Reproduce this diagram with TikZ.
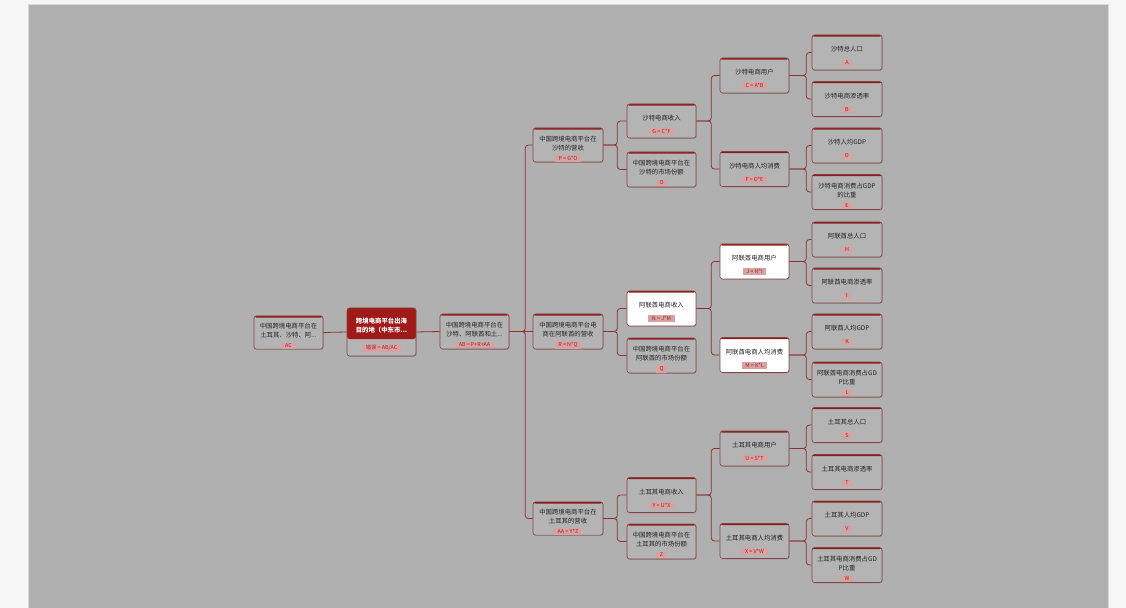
\documentclass[tikz,border=0pt]{standalone}
\usepackage{fontspec}
\newfontfamily\cjk{Noto Sans CJK SC}
\usetikzlibrary{calc,shadows}
\definecolor{panel}{HTML}{B0B0B0}
\definecolor{outer}{HTML}{F6F6F6}
\definecolor{bxfill}{HTML}{B4B4B4}
\definecolor{bxline}{HTML}{8A4040}
\definecolor{topred}{HTML}{8A1C1C}
\definecolor{fpink}{HTML}{D6A2A2}
\definecolor{ftext}{HTML}{A12525}
\definecolor{conncol}{HTML}{8E3030}
\definecolor{rootred}{HTML}{A01A1A}
\definecolor{txt}{HTML}{222222}
\newcommand\fm[1]{{\setlength\fboxsep{1.2pt}\colorbox{fpink}{\hspace{2.5pt}\color{ftext}\fontsize{5.4}{6}\selectfont #1\hspace{2.5pt}}}}
\newcommand\bx[5][]{\node[box,#1] (#2) at (#3,#4) {\rule{0pt}{13bp}#5};}
\tikzset{
  box/.style={draw=bxline, line width=0.6bp, fill=bxfill, rounded corners=2.5bp,
    inner sep=0pt, align=center, text=txt, minimum width=69bp, minimum height=35bp,
    font=\cjk\fontsize{6.4}{9}\selectfont,
    drop shadow={shadow xshift=0.7bp, shadow yshift=-0.8bp, opacity=0.35, fill=black!60},
    path picture={\fill[topred] (path picture bounding box.north west) rectangle ([yshift=-1.7bp]path picture bounding box.north east);}},
  hl/.style={fill=white},
  conn/.style={draw=conncol, line width=0.8bp, rounded corners=3bp},
  roottxt/.style={text=white, align=center, font=\cjk\bfseries\fontsize{6.4}{9}\selectfont, inner sep=0pt}
}
\begin{document}
\begin{tikzpicture}[x=1bp,y=-1bp]
\useasboundingbox (0,0) rectangle (1126,608);
\fill[outer] (0,0) rectangle (1126,608);
\fill[panel] (29,5) rectangle (1108,608);
\draw[draw=black!15, line width=0.5bp] (28.5,4.5) -- (28.5,608) (1108.5,4.5) -- (1108.5,608) (28.5,4.5) -- (1108.5,4.5);

% left and root
\bx[minimum height=33bp]{AC}{288.5}{332.5}{中国跨境电商平台在\\土耳其、沙特、阿...\\[1pt]\fm{AC}}
\node[box, minimum height=48bp, path picture={\fill[rootred] (path picture bounding box.north west) rectangle ([yshift=-31bp]path picture bounding box.north east);}] (root) at (381.5,332) {};
\node[roottxt] (roott) at ($(root.north)+(0,17.5)$) {跨境电商平台出海\\目的地（中东市...};
\node[inner sep=0pt, font=\cjk] (rootf) at ($(root.south)+(0,-8.5)$) {\fm{错误 = AB/AC}};
\bx{AB}{474.5}{331.5}{中国跨境电商平台在\\沙特、阿联酋和土...\\[1pt]\fm{AB = P+R+AA}}

% column 3
\bx[minimum width=70bp, minimum height=34bp]{P}{568}{145}{中国跨境电商平台在\\沙特的营收\\[1pt]\fm{P = G*O}}
\bx[minimum width=70bp]{R}{568}{331.5}{中国跨境电商平台电\\商在阿联酋的营收\\[1pt]\fm{R = N*Q}}
\bx[minimum width=70bp, minimum height=33bp]{AA}{568}{518.5}{中国跨境电商平台在\\土耳其的营收\\[1pt]\fm{AA = Y*Z}}

% column 4
\bx[minimum height=34bp]{G}{661.5}{121}{沙特电商收入\\[4pt]\fm{G = C*F}}
\bx{O}{661.5}{169.5}{中国跨境电商平台在\\沙特的市场份额\\[1pt]\fm{O}}
\bx[hl]{N}{661.5}{308.5}{阿联酋电商收入\\[4pt]\fm{N = J*M}}
\bx{Q}{661.5}{355.5}{中国跨境电商平台在\\阿联酋的市场份额\\[1pt]\fm{Q}}
\bx{Y}{661.5}{495}{土耳其电商收入\\[4pt]\fm{Y = U*X}}
\bx{Z}{661.5}{541.5}{中国跨境电商平台在\\土耳其的市场份额\\[1pt]\fm{Z}}

% column 5
\bx{C}{754.5}{75.5}{沙特电商用户\\[4pt]\fm{C = A*B}}
\bx{F}{754.5}{169}{沙特电商人均消费\\[4pt]\fm{F = D*E}}
\bx[hl]{J}{754.5}{261.5}{阿联酋电商用户\\[4pt]\fm{J = H*I}}
\bx[hl]{M}{754.5}{355}{阿联酋电商人均消费\\[4pt]\fm{M = K*L}}
\bx{U}{754.5}{448.5}{土耳其电商用户\\[4pt]\fm{U = S*T}}
\bx{X}{754.5}{541}{土耳其电商人均消费\\[4pt]\fm{X = V*W}}

% column 6
\bx[minimum width=70bp]{A}{847}{52.5}{沙特总人口\\[4pt]\fm{A}}
\bx[minimum width=70bp]{B}{847}{99}{沙特电商渗透率\\[4pt]\fm{B}}
\bx[minimum width=70bp]{D}{847}{145.5}{沙特人均GDP\\[4pt]\fm{D}}
\bx[minimum width=70bp]{E}{847}{192}{沙特电商消费占GDP\\的比重\\[1pt]\fm{E}}
\bx[minimum width=70bp]{H}{847}{239.5}{阿联酋总人口\\[4pt]\fm{H}}
\bx[minimum width=70bp]{I}{847}{285.5}{阿联酋电商渗透率\\[4pt]\fm{I}}
\bx[minimum width=70bp]{K}{847}{331.5}{阿联酋人均GDP\\[4pt]\fm{K}}
\bx[minimum width=70bp]{L}{847}{379.5}{阿联酋电商消费占GD\\P比重\\[1pt]\fm{L}}
\bx[minimum width=70bp]{S}{847}{425}{土耳其总人口\\[4pt]\fm{S}}
\bx[minimum width=70bp]{T}{847}{472}{土耳其电商渗透率\\[4pt]\fm{T}}
\bx[minimum width=70bp]{V}{847}{518.5}{土耳其人均GDP\\[4pt]\fm{V}}
\bx[minimum width=70bp]{W}{847}{565}{土耳其电商消费占GD\\P比重\\[1pt]\fm{W}}

% connectors
\draw[conn] (AC.east) -- (root.west);
\draw[conn] (root.east) -- (AB.west);
\draw[conn] (AB.east) -- (R.west);
\draw[conn] (AB.east) -- ++(16,0) |- (P.west);
\draw[conn] (AB.east) -- ++(16,0) |- (AA.west);
\foreach \p/\a/\b in {P/G/O, R/N/Q, AA/Y/Z}{
  \draw[conn] (\p.east) -- ++(14,0) |- (\a.west);
  \draw[conn] (\p.east) -- ++(14,0) |- (\b.west);
}
\foreach \p/\a/\b in {G/C/F, N/J/M, Y/U/X}{
  \draw[conn] (\p.east) -- ++(15,0) |- (\a.west);
  \draw[conn] (\p.east) -- ++(15,0) |- (\b.west);
}
\foreach \p/\a/\b in {C/A/B, F/D/E, J/H/I, M/K/L, U/S/T, X/V/W}{
  \draw[conn] (\p.east) -- ++(17,0) |- (\a.west);
  \draw[conn] (\p.east) -- ++(17,0) |- (\b.west);
}
\end{tikzpicture}
\end{document}
